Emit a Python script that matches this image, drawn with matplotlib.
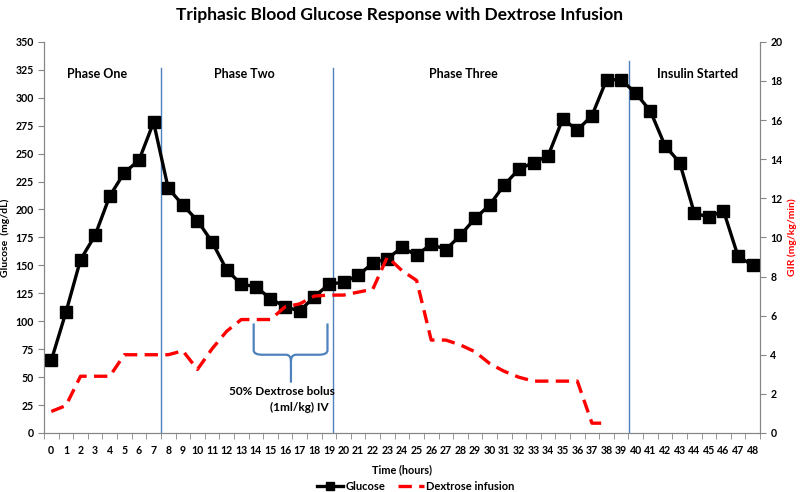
import matplotlib
matplotlib.use("Agg")
import matplotlib.pyplot as plt
from matplotlib.path import Path
from matplotlib.patches import PathPatch
from matplotlib.lines import Line2D

# dados
hours = list(range(0, 49))
glucose = [65, 108, 155, 177, 212, 233, 244, 278, 219, 204,
           190, 171, 146, 133, 131, 120, 113, 109, 122, 133,
           135, 141, 152, 156, 166, 159, 169, 164, 177, 192,
           204, 222, 236, 242, 248, 281, 271, 284, 316, 316,
           304, 288, 257, 242, 197, 193, 199, 158, 150]
gir_hours = list(range(0, 39))
gir = [1.1, 1.4, 2.9, 2.9, 2.9, 4.0, 4.0, 4.0, 4.0, 4.2,
       3.25, 4.3, 5.2, 5.8, 5.8, 5.8, 6.45, 6.6, 7.0, 7.05,
       7.05, 7.2, 7.35, 9.0, 8.3, 7.8, 4.75, 4.75, 4.5, 4.15,
       3.55, 3.15, 2.85, 2.65, 2.65, 2.65, 2.65, 0.5, 0.5]
phase_lines = [7.5, 19.3, 39.55]
phase_tops = [327, 327, 333]
phase_labels = ["Phase One", "Phase Two", "Phase Three", "Insulin Started"]
phase_label_x = [3.1, 13.2, 28.2, 44.2]

plt.rcParams['font.family'] = ['Lato', 'DejaVu Sans']
plt.rcParams['font.weight'] = 'bold'

fig = plt.figure(figsize=(8, 4.92), dpi=100)
ax = fig.add_axes([0.055, 0.12, 0.895, 0.795])
ax2 = ax.twinx()

spine_col = "#868686"
ax.plot(hours, glucose, color="black", lw=2.4, marker="s", markersize=8.5, zorder=3)
ax2.plot(gir_hours, gir, color="#ff0000", lw=2.4, dashes=(4, 2.2))

ax.set_xlim(-0.5, 48.5)
ax.set_ylim(0, 350)
ax2.set_ylim(0, 20)
ax.set_yticks(range(0, 351, 25))
ax2.set_yticks(range(0, 21, 2))
ax.set_xticks(hours)
ax.set_xticks([h - 0.5 for h in hours] + [48.5], minor=True)
ax.tick_params(axis="x", which="major", length=0, labelsize=7.6, pad=9)
ax.tick_params(axis="x", which="minor", length=4, color=spine_col)
ax.tick_params(axis="y", length=4, color=spine_col, labelsize=7.6)
ax2.tick_params(axis="y", length=4, color=spine_col, labelsize=7.6)

for a in (ax, ax2):
    a.spines["top"].set_visible(False)
    for s in ("left", "right", "bottom"):
        a.spines[s].set_color(spine_col)

ax.set_xlabel("Time (hours)", fontsize=7.8, fontweight="bold")
ax.xaxis.set_label_coords(0.5, -0.08)
ax.set_ylabel("Glucose  (mg/dL)", fontsize=7.5, fontweight="bold")
ax.yaxis.set_label_coords(-0.047, 0.5)
ax2.set_ylabel("GIR (mg/kg/min)", fontsize=7.5, fontweight="bold", color="#ff0000")
ax2.yaxis.set_label_coords(1.039, 0.5)

# linhas das fases
for x, top in zip(phase_lines, phase_tops):
    ax.plot([x, x], [0, top], color="#4f81bd", lw=1, zorder=1)
for lab, x in zip(phase_labels, phase_label_x):
    ax.text(x, 321, lab, ha="center", va="center", fontsize=9, fontweight="bold")

# chave do bolus de dextrose
x0, x1, xm = 13.85, 18.9, 16.4
verts = [(x0, 98), (x0, 74), (x0, 70), (x0 + 0.6, 70),
         (xm - 0.35, 70), (xm, 70), (xm, 64), (xm, 45),
         (xm, 64), (xm, 70), (xm + 0.35, 70),
         (x1 - 0.6, 70), (x1, 70), (x1, 74), (x1, 98)]
codes = [Path.MOVETO, Path.LINETO, Path.CURVE3, Path.CURVE3,
         Path.LINETO, Path.CURVE3, Path.CURVE3, Path.LINETO,
         Path.MOVETO, Path.CURVE3, Path.CURVE3,
         Path.LINETO, Path.CURVE3, Path.CURVE3, Path.LINETO]
ax.add_patch(PathPatch(Path(verts, codes), fill=False, edgecolor="#4f81bd", lw=1.6))
ax.text(15.75, 37, "50% Dextrose bolus", ha="center", va="center", fontsize=8.5, fontweight="bold")
ax.text(17.0, 22.5, "(1ml/kg) IV", ha="center", va="center", fontsize=8.5, fontweight="bold")

fig.suptitle("Triphasic Blood Glucose Response with Dextrose Infusion",
             x=0.5, y=0.985, fontsize=12.5, fontweight="bold")

handles = [Line2D([], [], color="black", lw=2.4, marker="s", markersize=6),
           Line2D([], [], color="#ff0000", lw=2.4, dashes=(4, 2.2))]
fig.legend(handles, ["Glucose", "Dextrose infusion"], loc="center", bbox_to_anchor=(0.52, 0.012),
           ncol=2, frameon=False, fontsize=8, handlelength=2.3, columnspacing=1.2, handletextpad=0.2)

fig.savefig("out.png", dpi=100)
